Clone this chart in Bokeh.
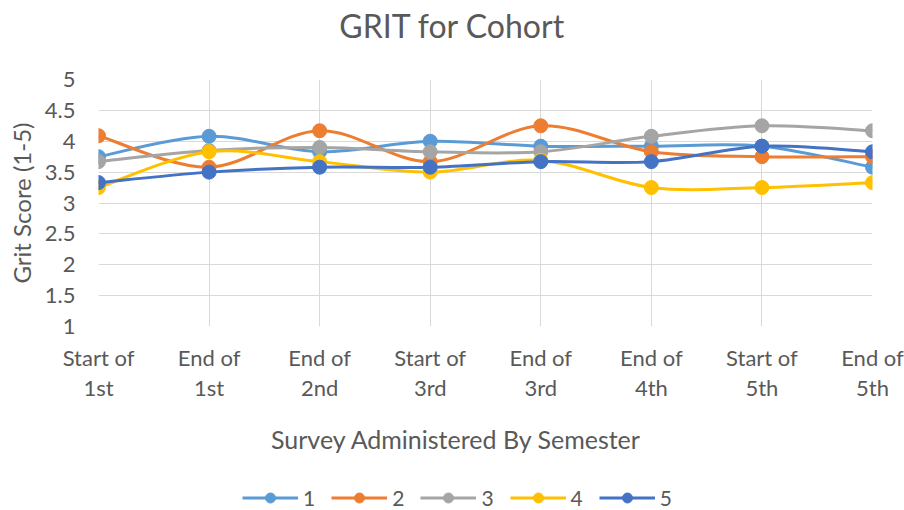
from bokeh.plotting import figure
from bokeh.models import Legend, LegendItem, FixedTicker, ColumnDataSource, Label, Range1d
from bokeh.layouts import column
from bokeh.embed import file_html
from bokeh.resources import INLINE

categories = ["Start of\n1st", "End of\n1st", "End of\n2nd", "Start of\n3rd",
              "End of\n3rd", "End of\n4th", "Start of\n5th", "End of\n5th"]
series_names = ["1", "2", "3", "4", "5"]
s1 = [3.75, 4.08, 3.83, 4.00, 3.92, 3.92, 3.92, 3.58]
s2 = [4.09, 3.58, 4.17, 3.67, 4.25, 3.83, 3.75, 3.75]
s3 = [3.67, 3.85, 3.90, 3.83, 3.83, 4.08, 4.25, 4.17]
s4 = [3.25, 3.83, 3.67, 3.50, 3.69, 3.25, 3.25, 3.33]
s5 = [3.33, 3.50, 3.58, 3.58, 3.67, 3.67, 3.92, 3.83]
y_ticks = [1, 1.5, 2, 2.5, 3, 3.5, 4, 4.5, 5]
y_tick_labels = ["1", "1.5", "2", "2.5", "3", "3.5", "4", "4.5", "5"]
chart_title = "GRIT for Cohort"
x_title = "Survey Administered By Semester"
y_title = "Grit Score (1-5)"

colors = ["#5B9BD5", "#ED7D31", "#A5A5A5", "#FFC000", "#4472C4"]
FONT = "Lato"
TXT = "#595959"
W = 904
BL, BR = 98, 32                      # frame left / right borders
TOP_H, MAIN_H, BOT_H = 60, 346, 104


def blank_fig(h):
    f = figure(width=W, height=h, output_backend="svg", toolbar_location=None,
               x_range=(0, W - BL - BR), y_range=(0, h),
               min_border_left=BL, min_border_right=BR, min_border_top=0,
               min_border_bottom=0, x_axis_location=None, y_axis_location=None)
    f.grid.visible = False
    f.outline_line_color = None
    f.background_fill_color = "white"
    f.border_fill_color = "white"
    return f


# ---- title strip (screen positions are relative to the frame's left edge)
top = blank_fig(TOP_H)
top.add_layout(Label(x=452 - BL, y=TOP_H - 25, x_units="screen", y_units="screen",
                     text=chart_title, text_align="center", text_baseline="middle",
                     text_font=FONT, text_font_size="32px", text_color=TXT))

# ---- main chart
p = figure(width=W, height=MAIN_H, output_backend="svg", toolbar_location=None,
           x_range=(0, len(categories) - 1), y_range=(1, 5),
           min_border_left=BL, min_border_right=BR, min_border_top=19, min_border_bottom=80)
p.outline_line_color = None
p.background_fill_color = "white"
p.border_fill_color = "white"

xs = list(range(len(categories)))
p.xaxis.ticker = FixedTicker(ticks=xs)
p.xaxis.major_label_overrides = {i: c for i, c in enumerate(categories)}
p.yaxis.ticker = FixedTicker(ticks=y_ticks)
p.yaxis.major_label_overrides = {t: l for t, l in zip(y_ticks, y_tick_labels)}
for ax in (p.xaxis, p.yaxis):
    ax.axis_line_color = None
    ax.major_tick_line_color = None
    ax.minor_tick_line_color = None
    ax.major_tick_out = 0
    ax.major_tick_in = 0
    ax.minor_tick_out = 0
    ax.major_label_text_font = FONT
    ax.major_label_text_font_size = "22px"
    ax.major_label_text_color = TXT
p.xaxis.major_label_standoff = 17
p.xaxis.major_label_text_line_height = 1.14
p.yaxis.major_label_standoff = 23
p.yaxis.axis_label = y_title
p.yaxis.axis_label_standoff = 6
p.yaxis.axis_label_text_font = FONT
p.yaxis.axis_label_text_font_size = "24px"
p.yaxis.axis_label_text_font_style = "normal"
p.yaxis.axis_label_text_color = TXT
p.xgrid.grid_line_color = "#D9D9D9"
p.ygrid.grid_line_color = "#D9D9D9"
p.xgrid.grid_line_width = 1
p.ygrid.grid_line_width = 1


def bezier_segments(ys):
    n = len(ys)
    pts = list(zip(xs, ys))
    segs = dict(x0=[], y0=[], x1=[], y1=[], cx0=[], cy0=[], cx1=[], cy1=[])
    for i in range(n - 1):
        p0 = pts[i - 1] if i > 0 else pts[i]
        p1 = pts[i]
        p2 = pts[i + 1]
        p3 = pts[i + 2] if i + 2 < n else pts[i + 1]
        segs["x0"].append(p1[0]); segs["y0"].append(p1[1])
        segs["x1"].append(p2[0]); segs["y1"].append(p2[1])
        segs["cx0"].append(p1[0] + (p2[0] - p0[0]) / 6)
        segs["cy0"].append(p1[1] + (p2[1] - p0[1]) / 6)
        segs["cx1"].append(p2[0] - (p3[0] - p1[0]) / 6)
        segs["cy1"].append(p2[1] - (p3[1] - p1[1]) / 6)
    return segs


all_series = [s1, s2, s3, s4, s5]
for name, ys, col in zip(series_names, all_series, colors):
    src = ColumnDataSource(bezier_segments(ys))
    p.bezier(x0="x0", y0="y0", x1="x1", y1="y1", cx0="cx0", cy0="cy0",
             cx1="cx1", cy1="cy1", source=src, line_color=col, line_width=3)
    p.scatter(xs, ys, size=14, fill_color=col, line_color=col, line_width=1)

# ---- bottom strip: x-axis title and legend
bot = blank_fig(BOT_H)
bot.add_layout(Label(x=456 - BL, y=BOT_H - 32, x_units="screen", y_units="screen",
                     text=x_title, text_align="center", text_baseline="middle",
                     text_font=FONT, text_font_size="25px", text_color=TXT))
# legend proxies: the same series, on a hidden range so only the legend shows them
bot.extra_x_ranges = {"proxy": Range1d(1000, 1001)}
bot.extra_y_ranges = {"proxy": Range1d(1000, 1001)}
items = []
for name, ys, col in zip(series_names, all_series, colors):
    lr = bot.line(xs, ys, line_color=col, line_width=3,
                  x_range_name="proxy", y_range_name="proxy")
    sr = bot.scatter(xs, ys, fill_color=col, line_color=col,
                     x_range_name="proxy", y_range_name="proxy")
    items.append(LegendItem(label=name, renderers=[lr, sr]))
legend = Legend(items=items, orientation="horizontal", location=(242 - BL, 0),
                glyph_width=56, glyph_height=25, label_height=25, label_width=9,
                label_standoff=5, spacing=16, padding=0, margin=0,
                border_line_color=None, background_fill_alpha=0,
                label_text_font=FONT, label_text_font_size="21px",
                label_text_color=TXT)
bot.add_layout(legend)

layout = column(top, p, bot, spacing=0)
open("out.html", "w").write(file_html(layout, INLINE))
